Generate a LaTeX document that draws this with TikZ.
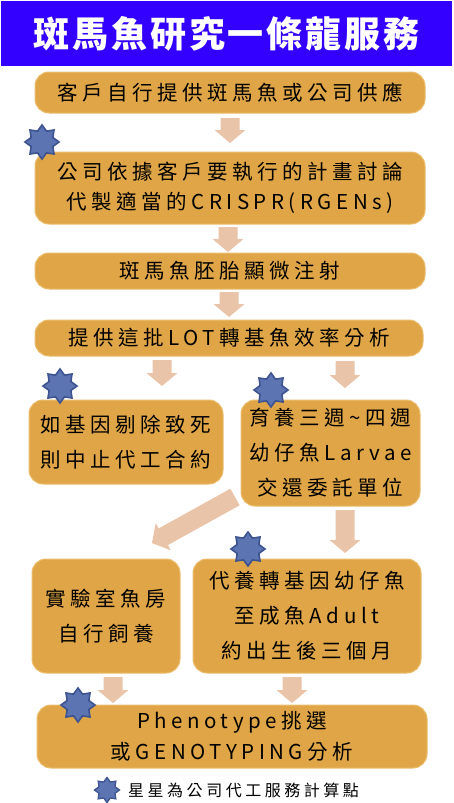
\documentclass[tikz,border=0pt]{standalone}
\usepackage{fontspec}
\usetikzlibrary{shapes.geometric}
\newfontfamily\cjk{Noto Sans CJK TC}[LetterSpace=22]
\newfontfamily\cjkt{Noto Sans CJK TC}[LetterSpace=8]
\definecolor{titleblue}{RGB}{51,0,255}
\definecolor{boxfill}{RGB}{223,165,70}
\definecolor{boxline}{RGB}{236,190,110}
\definecolor{arrowc}{RGB}{234,196,168}
\definecolor{starfill}{RGB}{92,116,178}
\definecolor{starline}{RGB}{62,84,145}
\tikzset{
  pics/downarrow/.style={code={%
    \fill[arrowc] (-9.5,0) -- (9.5,0) -- (9.5,#1-13) -- (15.5,#1-13) -- (0,#1)
      -- (-15.5,#1-13) -- (-9.5,#1-13) -- cycle;}},
}
\begin{document}
\begin{tikzpicture}[x=1pt,y=-1pt,
  box/.style={draw=boxline, line width=1pt, fill=boxfill, rounded corners=14pt,
    inner sep=0pt, align=center, text=black,
    font=\cjk\fontsize{20.5}{33}\selectfont},
  badge/.style={shape=star, star points=8, star point ratio=1.45,
    minimum size=34pt, inner sep=0pt, fill=starfill, draw=starline, line width=1.6pt},
]
\useasboundingbox (0,0) rectangle (453,803);
\fill[white] (0,0) rectangle (453,803);
% title
\node[fill=titleblue, minimum width=451pt, minimum height=65pt, inner sep=0pt,
  text=white, font=\cjkt\bfseries\fontsize{36}{40}\selectfont] (title) at (226.5,33.5) {斑馬魚研究一條龍服務};
% arrows
\coordinate (a1) at (230,118);
\coordinate (a2) at (228,227);
\coordinate (a3) at (229,292);
\coordinate (a4) at (162,360);
\coordinate (a5) at (345,361);
\coordinate (a6) at (235,497);
\coordinate (a7) at (345,510);
\coordinate (a8) at (113,677);
\coordinate (a9) at (292,677);
\pic at (a1) {downarrow=25};
\pic at (a2) {downarrow=25};
\pic at (a3) {downarrow=25};
\pic at (a4) {downarrow=26};
\pic at (a5) {downarrow=27};
\pic[rotate=-61] at (a6) {downarrow=95};
\pic at (a7) {downarrow=43};
\pic at (a8) {downarrow=26};
\pic at (a9) {downarrow=26};
% boxes
\node[box, minimum width=390pt, minimum height=41pt] (b1) at (230,92.5) {客戶自行提供斑馬魚或公司供應};
\node[box, minimum width=390pt, minimum height=72pt, font=\cjk\fontsize{20.5}{30}\selectfont] (b2) at (230,188) {公司依據客戶要執行的計畫討論\\代製適當的CRISPR(RGENs)};
\node[box, minimum width=390pt, minimum height=36pt] (b3) at (230,271) {斑馬魚胚胎顯微注射};
\node[box, minimum width=388pt, minimum height=36pt] (b4) at (229,338) {提供這批LOT轉基魚效率分析};
\node[box, minimum width=194pt, minimum height=84pt, font=\cjk\fontsize{20.5}{35}\selectfont] (b5) at (126,442) {如基因剔除致死\\則中止代工合約};
\node[box, minimum width=179pt, minimum height=106pt, font=\cjk\fontsize{20.5}{35}\selectfont] (b6) at (330.5,453) {育養三週\textasciitilde 四週\\幼仔魚Larvae\\交還委託單位};
\node[box, minimum width=148pt, minimum height=114pt, font=\cjk\fontsize{20.5}{35}\selectfont] (b7) at (106,616) {實驗室魚房\\自行飼養};
\node[box, minimum width=228pt, minimum height=114pt, font=\cjk\fontsize{20.5}{35}\selectfont] (b8) at (307,616) {代養轉基因幼仔魚\\至成魚Adult\\約出生後三個月};
\node[box, minimum width=390pt, minimum height=63pt, font=\cjk\fontsize{20.5}{31}\selectfont] (b9) at (232,736.5) {Phenotype挑選\\或GENOTYPING分析};
% stars
\node[badge] (s2) at (42,142) {};
\node[badge] (s5) at (60,386) {};
\node[badge] (s6) at (271,390) {};
\node[badge] (s8) at (248,549) {};
\node[badge] (s9) at (78,705) {};
\node[badge, minimum size=25pt, line width=1.3pt] (s10) at (107,790) {};
\node[anchor=west, inner sep=0pt, font=\cjk\fontsize{16}{18}\selectfont] (legend) at (128,790) {星星為公司代工服務計算點};
\end{tikzpicture}
\end{document}
